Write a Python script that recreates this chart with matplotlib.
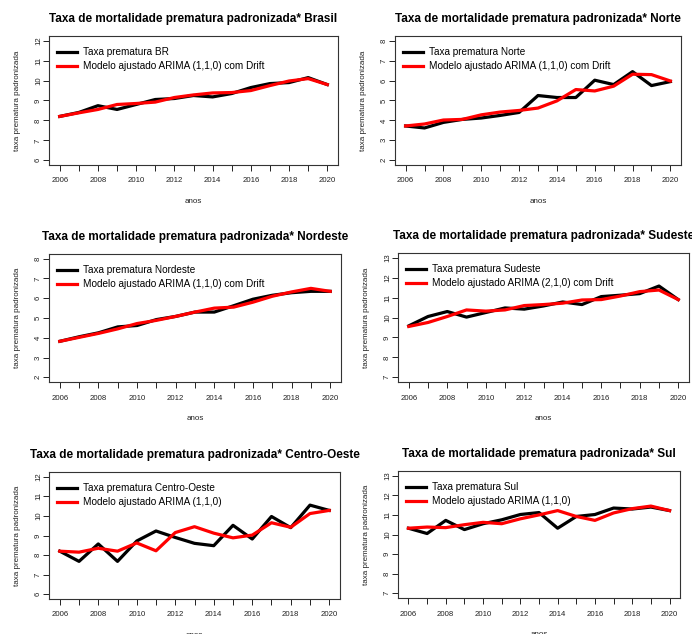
import numpy as np
import matplotlib
matplotlib.use("Agg")
import matplotlib.pyplot as plt

plt.rcParams['font.family'] = ['Liberation Sans', 'DejaVu Sans']

anos = np.arange(2006, 2021)

# taxa observada e modelo ajustado, por regiao
br_obs = [8.2, 8.4, 8.74, 8.55, 8.8, 9.05, 9.1, 9.25, 9.18, 9.35, 9.65, 9.85, 9.9, 10.15, 9.8]
br_fit = [8.2, 8.38, 8.55, 8.8, 8.85, 8.92, 9.15, 9.28, 9.38, 9.4, 9.5, 9.75, 9.98, 10.1, 9.8]

no_obs = [3.72, 3.62, 3.9, 4.05, 4.12, 4.25, 4.4, 5.25, 5.15, 5.15, 6.02, 5.8, 6.45, 5.75, 5.95]
no_fit = [3.72, 3.82, 4.02, 4.05, 4.28, 4.42, 4.5, 4.62, 4.98, 5.55, 5.48, 5.72, 6.32, 6.3, 5.98]

ne_obs = [3.82, 4.05, 4.25, 4.55, 4.62, 4.92, 5.08, 5.3, 5.3, 5.62, 5.95, 6.15, 6.28, 6.35, 6.35]
ne_fit = [3.82, 4.02, 4.22, 4.45, 4.72, 4.88, 5.08, 5.3, 5.5, 5.55, 5.8, 6.1, 6.32, 6.5, 6.35]

se_obs = [9.58, 10.05, 10.3, 10.02, 10.25, 10.48, 10.42, 10.58, 10.78, 10.65, 11.05, 11.12, 11.2, 11.58, 10.9]
se_fit = [9.55, 9.75, 10.05, 10.38, 10.32, 10.38, 10.6, 10.65, 10.72, 10.88, 10.9, 11.08, 11.3, 11.38, 10.9]

co_obs = [8.2, 7.68, 8.57, 7.68, 8.72, 9.23, 8.9, 8.6, 8.48, 9.52, 8.82, 9.97, 9.4, 10.55, 10.28]
co_fit = [8.2, 8.15, 8.35, 8.2, 8.62, 8.22, 9.15, 9.45, 9.12, 8.88, 9.02, 9.65, 9.42, 10.12, 10.28]

su_obs = [10.32, 10.05, 10.72, 10.25, 10.55, 10.75, 11.02, 11.12, 10.32, 10.92, 11.02, 11.35, 11.3, 11.4, 11.22]
su_fit = [10.32, 10.38, 10.35, 10.5, 10.62, 10.55, 10.8, 11.0, 11.22, 10.92, 10.72, 11.1, 11.32, 11.45, 11.22]

regioes = ['Brasil', 'Norte', 'Nordeste', 'Sudeste', 'Centro-Oeste', 'Sul']
rotulos = ['BR', 'Norte', 'Nordeste', 'Sudeste', 'Centro-Oeste', 'Sul']
modelos = ['ARIMA (1,1,0) com Drift', 'ARIMA (1,1,0) com Drift', 'ARIMA (1,1,0) com Drift',
           'ARIMA (2,1,0) com Drift', 'ARIMA (1,1,0)', 'ARIMA (1,1,0)']
observados = [br_obs, no_obs, ne_obs, se_obs, co_obs, su_obs]
ajustados = [br_fit, no_fit, ne_fit, se_fit, co_fit, su_fit]
ylims = [(6, 12), (2, 8), (2, 8), (7, 13), (6, 12), (7, 13)]

# posicoes dos paineis em pixels: esquerda, topo, direita, base
W, H = 692, 634
caixas = [(49, 36, 338, 165), (395, 36, 681, 165),
          (49, 254, 341, 382), (398, 253, 689, 382),
          (49, 472, 340, 599), (398, 471, 680, 598)]

fig = plt.figure(figsize=(W / 100, H / 100), dpi=100)

for i in range(6):
    l, t, r, b = caixas[i]
    ax = fig.add_axes([l / W, 1 - b / H, (r - l) / W, (b - t) / H])
    ax.plot(anos, observados[i], color='black', lw=2.3, label='Taxa prematura ' + rotulos[i],
            solid_joinstyle='round')
    ax.plot(anos, ajustados[i], color='#ff0000', lw=2.3, label='Modelo ajustado ' + modelos[i],
            solid_joinstyle='round')
    lo, hi = ylims[i]
    ax.set_ylim(lo - 0.04 * (hi - lo), hi + 0.04 * (hi - lo))
    ax.set_xlim(2006 - 0.56, 2020 + 0.56)
    ax.set_yticks(np.arange(lo, hi + 1))
    ax.set_xticks(anos)
    ax.set_xticklabels([str(a) if a % 2 == 0 else '' for a in anos])
    ax.tick_params(axis='both', labelsize=5.6, colors='#222222', length=4, width=0.7)
    ax.tick_params(axis='x', pad=5)
    ax.tick_params(axis='y', labelrotation=90, pad=1)
    for lab in ax.get_yticklabels():
        lab.set_va('center')
    for s in ax.spines.values():
        s.set_linewidth(0.8)
        s.set_color('#333333')
    ax.set_title('Taxa de mortalidade prematura padronizada* ' + regioes[i],
                 fontsize=8.5, fontweight='bold', pad=10)
    ax.set_xlabel('anos', fontsize=5.8, color='#222222', labelpad=10)
    ax.set_ylabel('taxa prematura padronizada', fontsize=5.8, color='#222222', labelpad=10)
    ax.legend(loc='upper left', bbox_to_anchor=(0, 0.975), frameon=False, fontsize=7.2,
              handlelength=2.0, handletextpad=0.6, labelspacing=0.4,
              borderaxespad=0.4, borderpad=0.4)

fig.savefig('out.png', dpi=100, facecolor='white')
